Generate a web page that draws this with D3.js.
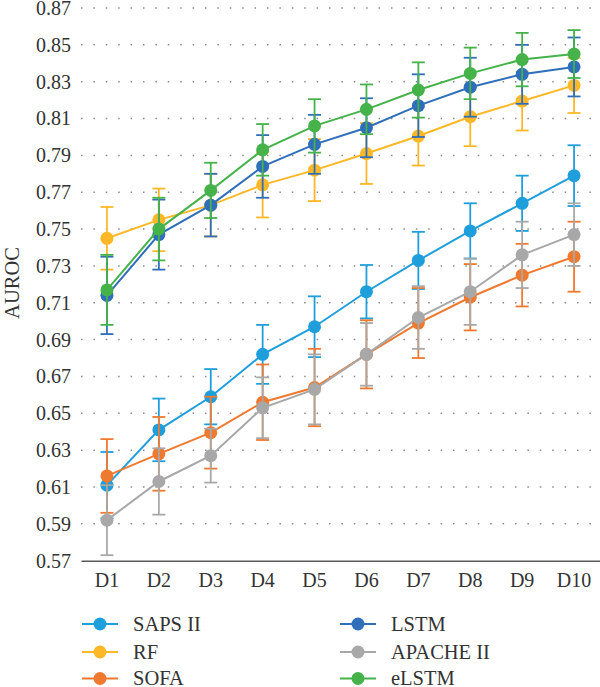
<!DOCTYPE html>
<html><head><meta charset="utf-8">
<script src="https://cdn.jsdelivr.net/npm/d3@7"></script>
<style>body{margin:0;background:#fff}svg{display:block}svg text{font-family:'Liberation Serif','Times New Roman',Times,serif !important;fill:#333}</style>
</head><body><svg id="c" width="600" height="687"></svg>
<script>
const categories = ["D1","D2","D3","D4","D5","D6","D7","D8","D9","D10"];
const yTicks = [0.57,0.59,0.61,0.63,0.65,0.67,0.69,0.71,0.73,0.75,0.77,0.79,0.81,0.83,0.85,0.87];
const seriesNames = ["SAPS II","RF","SOFA","LSTM","APACHE II","eLSTM"];
const seriesColors = ["#1E9FDC","#FDB827","#F07930","#2F6FBA","#A8A8A8","#45B24A"];
const sapsValues   = [0.611,0.641,0.659,0.682,0.697,0.716,0.733,0.749,0.764,0.779];
const sapsErr      = [0.018,0.017,0.015,0.016,0.0165,0.0145,0.0155,0.015,0.015,0.0165];
const rfValues     = [0.745,0.755,0.763,0.774,0.782,0.791,0.8005,0.811,0.8195,0.828];
const rfErr        = [0.017,0.017,0.017,0.0177,0.0168,0.0165,0.016,0.016,0.016,0.015];
const sofaValues   = [0.616,0.628,0.6395,0.656,0.664,0.682,0.699,0.713,0.725,0.735];
const sofaErr      = [0.020,0.020,0.0195,0.0205,0.021,0.0185,0.019,0.018,0.017,0.019];
const lstmValues   = [0.714,0.747,0.763,0.784,0.796,0.805,0.817,0.827,0.834,0.838];
const lstmErr      = [0.021,0.019,0.017,0.017,0.016,0.016,0.017,0.016,0.016,0.016];
const apacheValues = [0.592,0.613,0.627,0.653,0.663,0.682,0.702,0.716,0.736,0.747];
const apacheErr    = [0.019,0.018,0.0146,0.0165,0.019,0.017,0.017,0.018,0.018,0.017];
const elstmValues  = [0.717,0.750,0.771,0.793,0.806,0.815,0.8255,0.8345,0.842,0.845];
const elstmErr     = [0.019,0.017,0.015,0.014,0.0145,0.0135,0.015,0.014,0.0145,0.013];

const allValues = [sapsValues,rfValues,sofaValues,lstmValues,apacheValues,elstmValues];
const allErr = [sapsErr,rfErr,sofaErr,lstmErr,apacheErr,elstmErr];
const series = seriesNames.map((n,i)=>({name:n,color:seriesColors[i],
  pts:categories.map((c,j)=>({c,v:allValues[i][j],e:allErr[i][j]}))}));

const svg = d3.select("#c");
const pLeft=81, pRight=600, pTop=8, pBottom=560.7;
const x = d3.scaleBand().domain(categories).range([pLeft,pRight]);
const y = d3.scaleLinear().domain([0.57,0.87]).range([pBottom,pTop]);
const cx = c => x(c)+x.bandwidth()/2;

// grid
svg.append("g").selectAll("line").data(yTicks.slice(1)).join("line")
  .attr("x1",pLeft).attr("x2",pRight).attr("y1",d=>y(d)).attr("y2",d=>y(d))
  .attr("stroke","#8a8a8a").attr("stroke-width",1.5).attr("stroke-dasharray","1.5 10.9");

// y labels
const yAxis = d3.axisLeft(y).tickValues(yTicks).tickFormat(d3.format(".2f")).tickSize(0).tickPadding(10);
const ya = svg.append("g").attr("transform",`translate(${pLeft},0)`).call(yAxis).attr("font-family",null);
ya.select(".domain").remove();
ya.selectAll("text").attr("font-size",20).attr("fill","#333");

// x axis
const xAxis = d3.axisBottom(x).tickSize(0).tickPadding(12);
const xa = svg.append("g").attr("transform",`translate(0,${pBottom})`).call(xAxis).attr("font-family",null);
xa.select(".domain").attr("stroke","#595959").attr("stroke-width",1.5);
xa.selectAll("text").attr("font-size",20).attr("fill","#333");

// y title
svg.append("text").attr("transform","translate(19,283) rotate(-90)").attr("text-anchor","middle")
  .attr("font-size",20.5).text("AUROC");

const line = d3.line().x(d=>cx(d.c)).y(d=>y(d.v));
const cap = 6.5;
series.forEach(s=>{
  const g = svg.append("g");
  const eb = g.selectAll("g.eb").data(s.pts).join("g").attr("stroke",s.color).attr("stroke-width",1.8);
  eb.append("line").attr("x1",d=>cx(d.c)).attr("x2",d=>cx(d.c)).attr("y1",d=>y(d.v-d.e)).attr("y2",d=>y(d.v+d.e));
  eb.append("line").attr("x1",d=>cx(d.c)-cap).attr("x2",d=>cx(d.c)+cap).attr("y1",d=>y(d.v+d.e)).attr("y2",d=>y(d.v+d.e));
  eb.append("line").attr("x1",d=>cx(d.c)-cap).attr("x2",d=>cx(d.c)+cap).attr("y1",d=>y(d.v-d.e)).attr("y2",d=>y(d.v-d.e));
  g.append("path").datum(s.pts).attr("d",line).attr("fill","none").attr("stroke",s.color).attr("stroke-width",2);
  g.selectAll("circle").data(s.pts).join("circle").attr("cx",d=>cx(d.c)).attr("cy",d=>y(d.v)).attr("r",6.5).attr("fill",s.color);
});

// legend
const legPos = [[82,624],[82,652],[82,678.5],[340,624],[340,652],[340,678.5]];
series.forEach((s,i)=>{
  const [lx,ly]=legPos[i];
  const g = svg.append("g");
  g.append("line").attr("x1",lx).attr("x2",lx+36).attr("y1",ly).attr("y2",ly).attr("stroke",s.color).attr("stroke-width",2);
  g.append("circle").attr("cx",lx+18).attr("cy",ly).attr("r",6.5).attr("fill",s.color);
  g.append("text").attr("x",lx+51).attr("y",ly).attr("dy","0.33em").attr("font-size",20.5).text(s.name);
});
</script></body></html>
